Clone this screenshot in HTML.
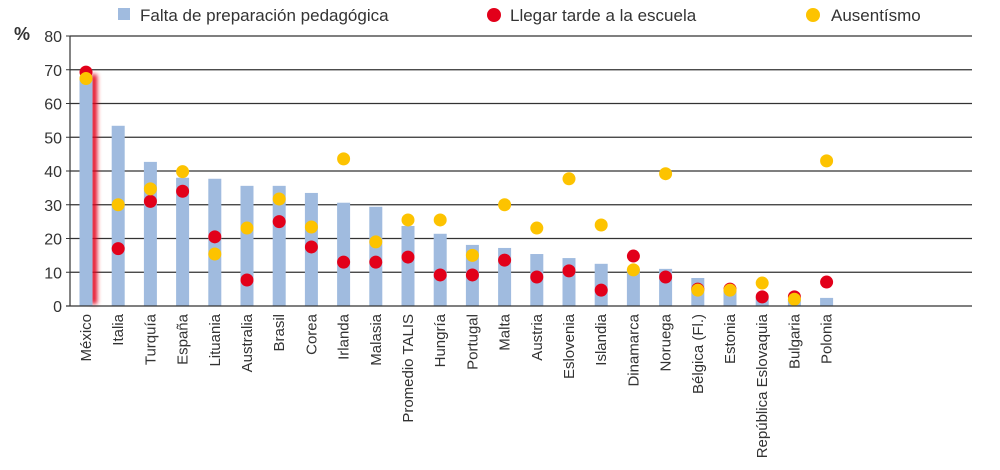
<!DOCTYPE html>
<html><head><meta charset="utf-8"><style>
body{margin:0;background:#fff;font-family:"Liberation Sans",sans-serif;}
svg{display:block}
</style></head><body>
<svg id="c" width="1000" height="470" xmlns="http://www.w3.org/2000/svg">
<defs><filter id="glow" x="-2" y="-0.2" width="5" height="1.4"><feGaussianBlur stdDeviation="2.5"/></filter></defs>
<g id="legend">
<rect x="118" y="8" width="12" height="12" fill="#a0bbdf"/>
<text x="140" y="21" font-size="17" fill="#333">Falta de preparación pedagógica</text>
<circle cx="494" cy="15" r="7" fill="#e2001a"/>
<text x="510" y="21" font-size="17" fill="#333">Llegar tarde a la escuela</text>
<circle cx="813" cy="15" r="7" fill="#fdc300"/>
<text x="831" y="21" font-size="17" fill="#333">Ausentísmo</text>
</g>
<text x="14" y="40" font-size="18" font-weight="bold" fill="#333">%</text>
</svg>
<script>
const categories=["México","Italia","Turquía","España","Lituania","Australia","Brasil","Corea","Irlanda","Malasia","Promedio TALIS","Hungría","Portugal","Malta","Austria","Eslovenia","Islandia","Dinamarca","Noruega","Bélgica (Fl.)","Estonia","República Eslovaquia","Bulgaria","Polonia"];
const prepValues=[68,53.4,42.7,38,37.7,35.6,35.6,33.5,30.6,29.4,23.7,21.4,18.1,17.2,15.4,14.2,12.5,11,11,8.3,4.5,2.5,2,2.4];
const lateValues=[69.3,17,31,34,20.5,7.7,25,17.5,13,13,14.5,9.2,9.2,13.6,8.6,10.4,4.7,14.8,8.6,5,5,2.7,2.7,7.1];
const absentValues=[67.4,30,34.7,39.8,15.4,23.1,31.7,23.4,43.6,19,25.5,25.5,15,30,23.1,37.7,24,10.7,39.2,4.7,4.7,6.8,2,43];
const yTicks=[0,10,20,30,40,50,60,70,80];
const NS="http://www.w3.org/2000/svg",svg=document.getElementById('c');
const y=v=>306-v*(270/80), x=i=>86+i*32.2;
function mk(t,a){const e=document.createElementNS(NS,t);for(const k in a)e.setAttribute(k,a[k]);svg.appendChild(e);return e;}
yTicks.forEach(v=>{
 if(v>0){const g=mk('line',{x1:70,x2:972,y1:y(v),y2:y(v),stroke:'#333','stroke-width':1.2});
 
 }
 const t=mk('text',{x:62,y:y(v)+6,'font-size':16,'text-anchor':'end',fill:'#333'});t.textContent=v;
 
 
 const tk=mk('line',{x1:66,x2:70,y1:y(v),y2:y(v),stroke:'#333'});
 
 
});
const gl=mk('rect',{x:x(0)+5,y:y(prepValues[0])-2,width:6,height:y(0)-y(prepValues[0]),fill:'#e2001a',filter:'url(#glow)'});


categories.forEach((c,i)=>{
 const b=mk('rect',{x:x(i)-6.5,y:y(prepValues[i]),width:13,height:y(0)-y(prepValues[i]),fill:'#a0bbdf'});
 
 
 const r=mk('circle',{cx:x(i),cy:y(lateValues[i]),r:6.5,fill:'#e2001a'});
 
 
 const a=mk('circle',{cx:x(i),cy:y(absentValues[i]),r:6.5,fill:'#fdc300'});
 
 
 const t=mk('text',{x:x(i)+5,y:314,'font-size':15,'text-anchor':'end',fill:'#333',transform:`rotate(-90 ${x(i)+5} 314)`});
 t.textContent=c;
 
 
});
const ax=mk('line',{x1:70,x2:70,y1:36,y2:306,stroke:'#333','stroke-width':1.2});


const bx=mk('line',{x1:66,x2:972,y1:306,y2:306,stroke:'#333','stroke-width':1.2});


</script>
</body></html>
